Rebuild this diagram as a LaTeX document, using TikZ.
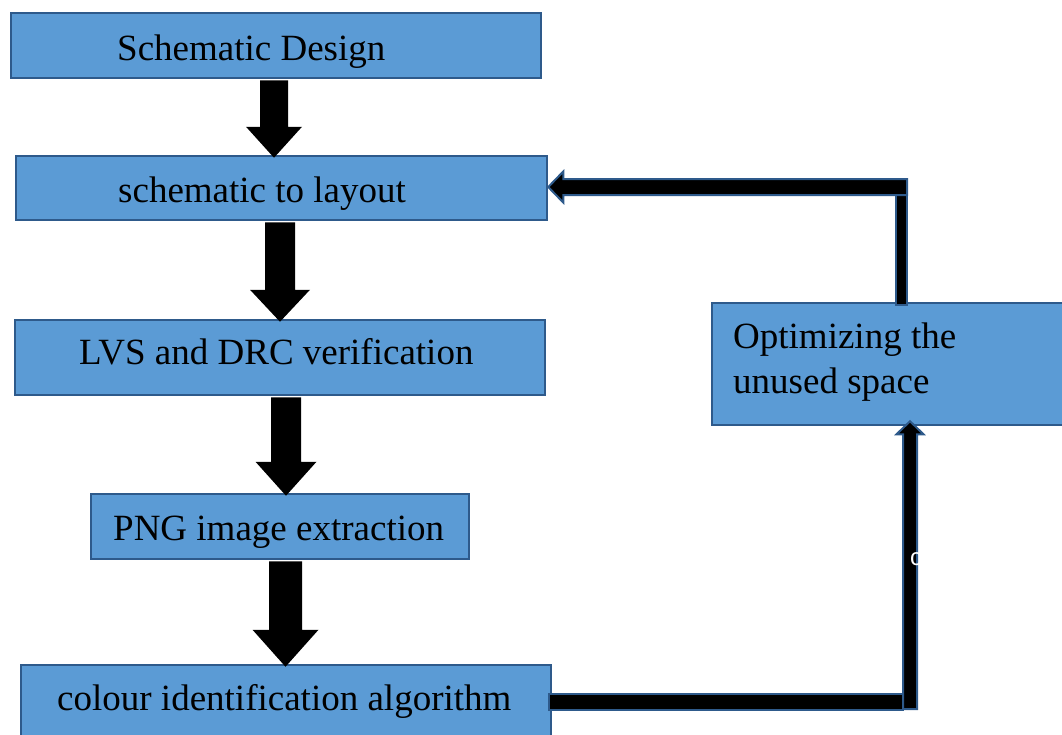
\documentclass[tikz,border=0pt]{standalone}
\usepackage{fontspec}
\setmainfont{Liberation Serif}
\newfontfamily\smallsans{Liberation Sans}
\usetikzlibrary{calc}
\definecolor{boxfill}{HTML}{5B9BD5}
\definecolor{boxedge}{HTML}{2E5A8B}

% thick downward block arrow between two stacked boxes
% #1 upper node, #2 lower node, #3 coordinate giving the x position,
% #4 half shaft width, #5 half head width, #6 head length
\newcommand\blockdown[6]{%
  \coordinate (bdT) at (#3 |- #1.south);
  \coordinate (bdB) at (#3 |- #2.north);
  \fill[blk] ($(bdT)+(-#4,1)$) -- ($(bdT)+(#4,1)$) -- ($(bdB)+(#4,-#6)$)
    -- ($(bdB)+(#5,-#6)$) -- ($(bdB)+(0,3)$) -- ($(bdB)+(-#5,-#6)$)
    -- ($(bdB)+(-#4,-#6)$) -- cycle;}

\begin{document}
\begin{tikzpicture}[x=1pt,y=-1pt,
  box/.style={rectangle, draw=boxedge, fill=boxfill, line width=2.5pt, inner sep=0pt},
  caption/.style={font=\fontsize{37}{45}\selectfont, anchor=base west, inner sep=0pt, text=black},
  blk/.style={fill=black},
  fbar/.style={fill=black, draw=boxedge, line width=2pt}]
\clip (0,0) rectangle (1062,734);
\useasboundingbox (0,0) rectangle (1062,734);

% process boxes
\node[box, minimum width=530, minimum height=65] (b1) at (276,45.5) {};
\node[box, minimum width=531, minimum height=64] (b2) at (281.5,188) {};
\node[box, minimum width=530, minimum height=75] (b3) at (280,357.5) {};
\node[box, minimum width=378, minimum height=65] (b4) at (280,526.5) {};
\node[box, minimum width=530, minimum height=95] (b5) at (286,712.5) {};
\node[box, minimum width=363, minimum height=122] (b6) at (893.5,364) {};

% main flow arrows
\coordinate (x1) at (274,0);   \blockdown{b1}{b2}{x1}{14}{28}{28}
\coordinate (x2) at (280,0);   \blockdown{b2}{b3}{x2}{15}{30}{29}
\coordinate (x3) at (286,0);   \blockdown{b3}{b4}{x3}{15}{30.5}{31}
\coordinate (x4) at (285.5,0); \blockdown{b4}{b5}{x4}{16.5}{33}{34}

% feedback loop corners
\coordinate (fT) at (901.5,187);
\coordinate (fB) at (910,702);

% lower leg: colour identification -> optimizing
\filldraw[fbar] ($(b5.east |- fB)+(-3,-8)$) rectangle ($(fB)+(-7,8)$);
\filldraw[fbar] ($(fB)+(-7,7)$) -- ($(fB |- b6.south)+(-7,8)$)
  -- ($(fB |- b6.south)+(-13.5,8)$) -- ($(fB |- b6.south)+(0,-5)$)
  -- ($(fB |- b6.south)+(13.5,8)$) -- ($(fB |- b6.south)+(7,8)$)
  -- ($(fB)+(7,7)$) -- cycle;

% upper leg: optimizing -> schematic to layout
\filldraw[fbar] ($(fT |- b6.north)+(-5.5,3)$) rectangle ($(fT)+(5.5,6)$);
\filldraw[fbar] ($(fT)+(5.5,-8)$) -- ($(b2.east |- fT)+(15,-8)$)
  -- ($(b2.east |- fT)+(15,-15.5)$) -- (b2.east |- fT)
  -- ($(b2.east |- fT)+(15,15.5)$) -- ($(b2.east |- fT)+(15,8)$)
  -- ($(fT)+(5.5,8)$) -- cycle;

% box texts
\node[caption] (t1) at (117,60) {Schematic Design};
\node[caption] (t2) at (118,202) {schematic to layout};
\node[caption] (t3) at (79,364) {LVS and DRC verification};
\node[caption] (t4) at (113,540) {PNG image extraction};
\node[caption] (t5) at (57,710) {colour identification algorithm};
\node[caption, align=left] (t6) at (733,393) {Optimizing the\\unused space};

% stray white letter on the return line
\node[font=\smallsans\fontsize{24}{24}\selectfont, text=white, anchor=base west, inner sep=0pt] (cmark) at (910,565) {c};
\end{tikzpicture}
\end{document}
